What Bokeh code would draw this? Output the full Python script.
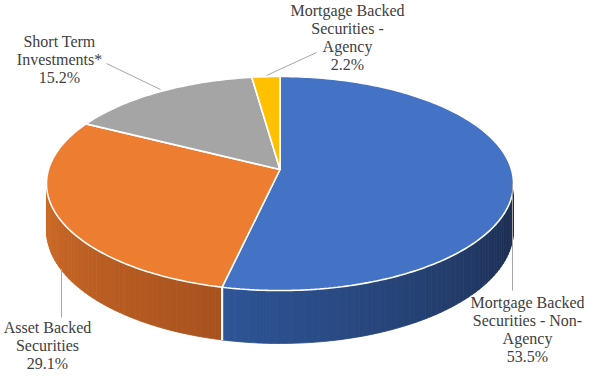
import numpy as np
from bokeh.plotting import figure
from bokeh.models import Range1d
from bokeh.core.properties import value
from bokeh.embed import file_html
from bokeh.resources import INLINE

# ---------------- data ----------------
categories = ["Mortgage Backed Securities - Non-Agency",
              "Asset Backed Securities",
              "Short Term Investments*",
              "Mortgage Backed Securities - Agency"]
shares = [53.5, 29.1, 15.2, 2.2]
label_lines = [["Mortgage Backed", "Securities - Non-", "Agency"],
               ["Asset Backed", "Securities"],
               ["Short Term", "Investments*"],
               ["Mortgage Backed", "Securities -", "Agency"]]

# ---------------- styles ----------------
top_colors = ["#4472C4", "#ED7D31", "#A5A5A5", "#FFC000"]
side_light = ["#2E5597", "#CF6C27", "#8C8C8C", "#D9A300"]
side_dark = ["#1B2A4A", "#A8521F", "#6E6E6E", "#B08400"]
text_color = "#404040"
leader_color = "#A6A6A6"
label_font = "Liberation Serif"

# ---------------- layout (picture pixel coordinates) ----------------
CX, CY = 279.5, 169.0      # apex of the pie
A, B = 231.5, 105.2        # horizontal / vertical radius
D = 7.64                   # perspective distance
H = 46.0                   # thickness
label_anchor = [(527, 302), (47, 327), (59, 41), (347, 10)]
line_step = 18.0
leaders = [((512, 183), (512, 290)),
           ((61, 268), (61, 317)),
           ((160, 89), (106, 63)),
           ((266, 75), (316, 52))]


def proj(theta_deg):
    t = np.radians(theta_deg)
    u = np.sin(t)
    v = -np.cos(t)
    s = D / (D - v)
    x = CX + A * u * s
    y = CY + B * v * s
    yb = y + H * s
    return x, y, yb


def hex2rgb(h):
    h = h.lstrip("#")
    return np.array([int(h[i:i + 2], 16) for i in (0, 2, 4)], dtype=float)


def rgb2hex(c):
    c = np.clip(np.round(c), 0, 255).astype(int)
    return "#%02x%02x%02x" % tuple(c)


p = figure(width=584, height=372, output_backend="svg", toolbar_location=None,
           x_range=Range1d(0, 584), y_range=Range1d(372, 0),
           min_border=0)
p.axis.visible = False
p.grid.visible = False
p.outline_line_color = None
p.background_fill_color = "white"

total = sum(shares)
bounds = np.concatenate([[0], np.cumsum(shares) / total * 360.0])
vis_lo = np.degrees(np.arccos(-1.0 / D))          # right extreme
vis_hi = 360.0 - vis_lo                            # left extreme

# ---- sides ----
for i in range(len(shares)):
    t1, t2 = bounds[i], bounds[i + 1]
    lo, hi = max(t1, vis_lo), min(t2, vis_hi)
    if lo >= hi:
        continue
    n = max(4, int((hi - lo) / 1.5))
    ts = np.linspace(lo, hi, n + 1)
    xs_list, ys_list, cols = [], [], []
    cl, cd = hex2rgb(side_light[i]), hex2rgb(side_dark[i])
    for k in range(n):
        a0, a1 = ts[k], ts[k + 1]
        x0, y0, b0 = proj(a0)
        x1, y1, b1 = proj(a1)
        xs_list.append([x0, x1, x1, x0])
        ys_list.append([y0, y1, b1, b0])
        f = ((a0 + a1) / 2 - lo) / (hi - lo)
        cols.append(rgb2hex(cd + (cl - cd) * f))
    p.patches(xs_list, ys_list, fill_color=cols, line_color=cols, line_width=0.8)

# white edges where slices meet on the visible side
for b in bounds[1:-1]:
    if vis_lo < b < vis_hi:
        x, y, yb = proj(b)
        p.line([x, x], [y, yb], line_color="white", line_width=2.2)

# ---- tops ----
for i in range(len(shares)):
    t1, t2 = bounds[i], bounds[i + 1]
    n = max(6, int((t2 - t1) / 1.0))
    ts = np.linspace(t1, t2, n + 1)
    x, y, _ = proj(ts)
    xs = np.concatenate([[CX], x])
    ys = np.concatenate([[CY], y])
    p.patch(xs, ys, fill_color=top_colors[i], line_color="white", line_width=1.6)

# ---- leader lines ----
for (a, b) in leaders:
    p.line([a[0], b[0]], [a[1], b[1]], line_color=leader_color, line_width=1)

# ---- labels ----
tx, ty, tt = [], [], []
for i in range(len(shares)):
    lines = label_lines[i] + [f"{shares[i]:.1f}%"]
    ax, ay = label_anchor[i]
    for j, ln in enumerate(lines):
        tx.append(ax)
        ty.append(ay + j * line_step)
        tt.append(ln)
p.text(tx, ty, text=tt, text_font=value(label_font), text_font_size="16px",
       text_color=text_color, text_align="center", text_baseline="middle")

open("out.html", "w").write(file_html(p, INLINE))
